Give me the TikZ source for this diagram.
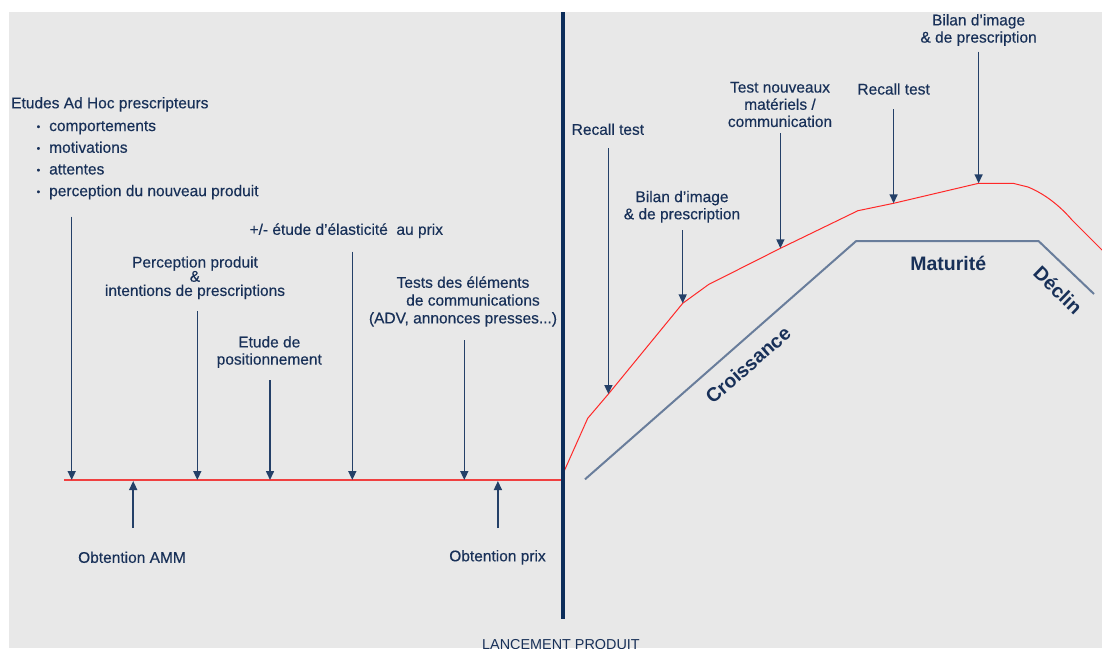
\documentclass[tikz,border=0pt]{standalone}
\usepackage{fontspec}
\setmainfont{Liberation Sans}
\usetikzlibrary{arrows.meta}
\definecolor{bg}{RGB}{232,232,232}
\definecolor{txt}{RGB}{24,48,88}
\definecolor{navy}{RGB}{12,45,90}
\definecolor{arr}{RGB}{36,64,104}
\definecolor{life}{RGB}{105,125,155}
\definecolor{redl}{RGB}{240,64,64}
\definecolor{redc}{RGB}{255,40,40}
\newcommand{\bulletmark}{\makebox[12.5pt][l]{\raisebox{1pt}{\fontsize{10}{10}\selectfont •}}}
\begin{document}
\begin{tikzpicture}[x=1pt,y=-1pt,
  lbl/.style={text=txt,font=\fontsize{15.5}{17.2}\selectfont\addfontfeature{FakeBold=0.35},inner sep=0pt,align=center},
  big/.style={text=txt,font=\bfseries\fontsize{19.5}{21}\selectfont,inner sep=0pt},
  arrw/.style={draw=arr,line width=1.5pt,-{Triangle[width=8pt,length=9pt]}}]
\useasboundingbox (0,0) rectangle (1102,648);
\clip (0,0) rectangle (1102,648);
\fill[bg] (9,12) rectangle (1102,648);

% left texts
\node[lbl,anchor=west] (hdr) at (11,104.3) {Etudes Ad Hoc prescripteurs};
\node[lbl,anchor=west,align=left,font=\fontsize{15.5}{21.7}\selectfont\addfontfeature{FakeBold=0.35}] (list) at (36.5,160.2)
 {\bulletmark comportements\\
  \bulletmark motivations\\
  \bulletmark attentes\\
  \bulletmark perception du nouveau produit};
\node[lbl] (perc) at (195,277.7) {Perception produit\\[-3pt]\&\\[-3pt]intentions de prescriptions};
\node[lbl] (etude) at (269.3,352) {Etude de\\positionnement};
\node[lbl] (elast) at (346.3,230.7) {+/- étude d'élasticité\ \ au prix};
\node[lbl] (tests) at (463,301.5) {Tests des éléments\\[0.6pt]\hspace*{20pt}de communications\\[0.6pt](ADV, annonces presses...)};
\node[lbl] (amm) at (132,557.3) {Obtention AMM};
\node[lbl] (prix) at (497.5,557.3) {Obtention prix};
\node[lbl,anchor=base,font=\fontsize{14.4}{16}\selectfont] (launch) at (561,649.6) {LANCEMENT PRODUIT};

% right texts
\node[lbl] (rec1) at (607.9,129.3) {Recall test};
\node[lbl] (bil1) at (682,206.7) {Bilan d'image\\\& de prescription};
\node[lbl] (tnv) at (780,104.5) {Test nouveaux\\matériels /\\communication};
\node[lbl] (rec2) at (893.6,89) {Recall test};
\node[lbl] (bil2) at (978.6,30) {Bilan d'image\\\& de prescription};

% lifecycle line
\coordinate (l0) at (585,479.3);
\coordinate (l1) at (856.2,241);
\coordinate (l2) at (1038.5,241);
\coordinate (l3) at (1094,294);
\draw[life,line width=2pt,line join=miter] (l0) -- (l1) -- (l2) -- (l3);
\node[big,rotate=41] (cro) at (748,365) {Croissance};
\node[big] (mat) at (948.3,263) {Maturité};
\node[big,rotate=-44] (dec) at (1058,290) {Déclin};

% red timeline
\coordinate (h0) at (64.3,480);
\coordinate (h1) at (562.7,480);
\draw[redl,line width=2pt] (h0) -- (h1);

% red curve
\coordinate (c0) at (564,471.5);
\coordinate (r1) at (608.4,394);
\coordinate (r2) at (682.7,303.3);
\coordinate (r3) at (780.4,248.3);
\coordinate (r4) at (893.6,203.3);
\coordinate (r5) at (978.6,183.3);
\draw[redc,line width=1pt,line join=round] (c0) -- (587.7,418.3) -- (r1) -- (r2) -- (708.6,284.5) -- (r3)
  -- (857.9,210.7) -- (r4) -- (r5) -- (1013,183.3) -- (1028,187)
  .. controls (1045,194) and (1060,206) .. (1072,220) -- (1104,252);

% launch line
\coordinate (v0) at (562.7,12);
\coordinate (v1) at (562.7,619);
\draw[navy,line width=4pt] (v0) -- (v1);

% down arrows on timeline
\coordinate (a1s) at (71.7,216.7);  \coordinate (a1e) at (71.7,480);
\coordinate (a2s) at (197.3,311);   \coordinate (a2e) at (197.3,480);
\coordinate (a3s) at (270,380);     \coordinate (a3e) at (270,480);
\coordinate (a4s) at (352.3,251.7); \coordinate (a4e) at (352.3,480);
\coordinate (a5s) at (464.3,340);   \coordinate (a5e) at (464.3,480);
\draw[arrw] (a1s) -- (a1e);
\draw[arrw] (a2s) -- (a2e);
\draw[arrw] (a3s) -- (a3e);
\draw[arrw] (a4s) -- (a4e);
\draw[arrw] (a5s) -- (a5e);
% up arrows
\coordinate (u1s) at (133.2,528); \coordinate (u1e) at (133.2,481);
\coordinate (u2s) at (497.9,528); \coordinate (u2e) at (497.9,481);
\draw[arrw] (u1s) -- (u1e);
\draw[arrw] (u2s) -- (u2e);
% right arrows
\coordinate (b1s) at (608.4,148.3);
\coordinate (b2s) at (682.7,230);
\coordinate (b3s) at (780.4,133.3);
\coordinate (b4s) at (893.6,109.3);
\coordinate (b5s) at (978.6,51.7);
\draw[arrw] (b1s) -- (r1);
\draw[arrw] (b2s) -- (r2);
\draw[arrw] (b3s) -- (r3);
\draw[arrw] (b4s) -- (r4);
\draw[arrw] (b5s) -- (r5);
\end{tikzpicture}
\end{document}
